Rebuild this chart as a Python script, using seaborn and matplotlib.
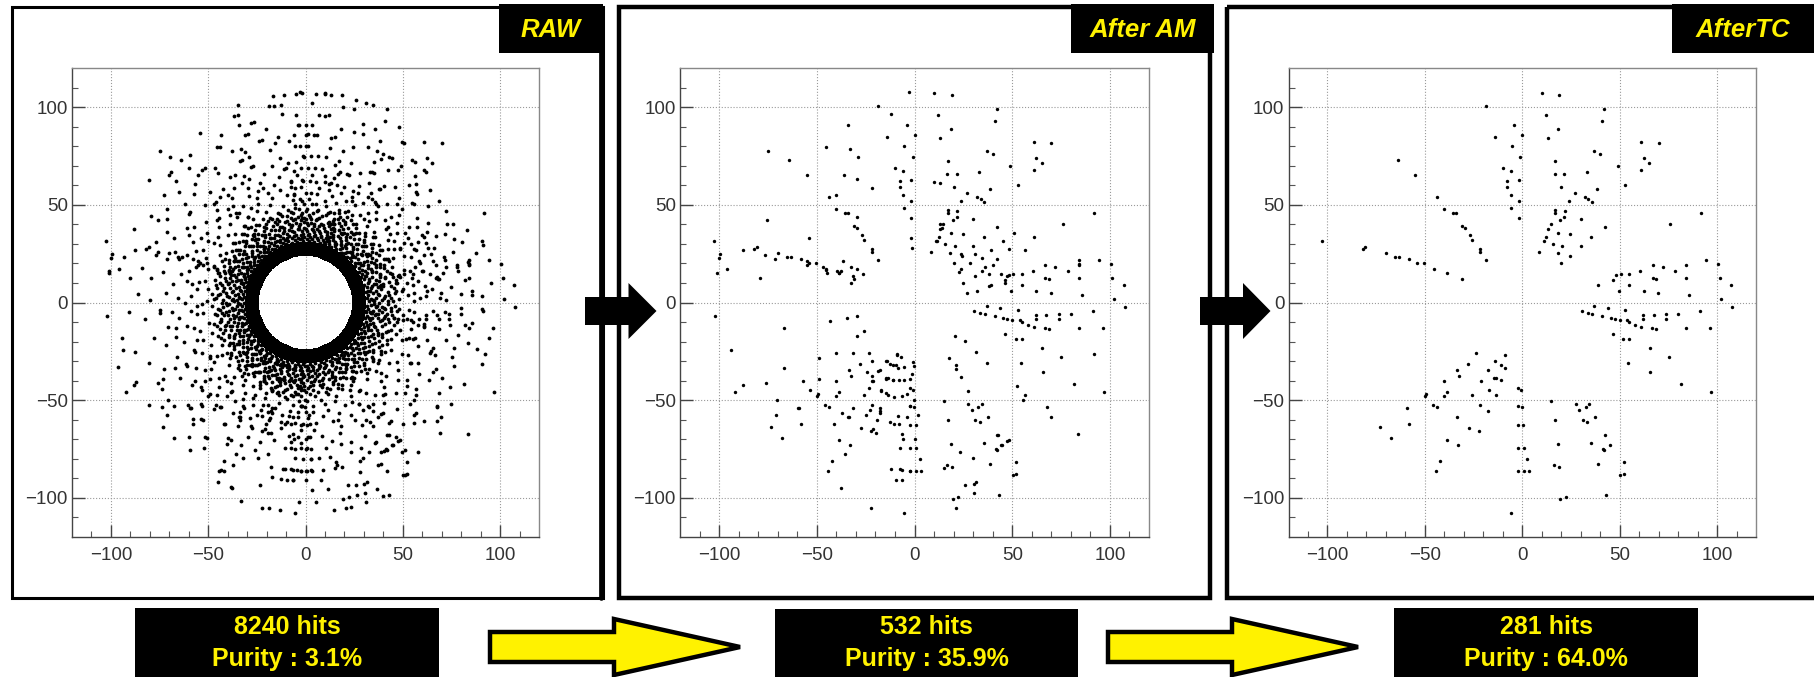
import numpy as np
import matplotlib
matplotlib.use('Agg')
import matplotlib.pyplot as plt
from matplotlib.patches import Rectangle, Polygon
import seaborn as sns

# hits surviving track combination
tc_x = [10,19,-18.7,42,12,41,-4,18.5,-14,0,13,61,70,-5.4,37,40,-1,-64,17,62.4,65,49,-10,61,-6,33,16.6,21.5,-55,-7.6,-1.6,53,-7.6,20,38.5,27,-6,-44,32,34,35.7,-1.8,24,-5.6,-40,17,21.7,-35.7,-34,17,91.7,21.5,-1.8,30,19.5,76,42.3,14.6,-31,-29.5,13,18.5,-27,24.7,35.5,12.4,-25.7,11.4,-102.7,15.8,20.5,30,-80.6,-82,-21.5,-70,8.6,18.3,-21.5,24.3,-65.4,-63.4,-58,-18.5,94.5,-54,-50.5,20,100.7,67,72,84,-45.3,60.4,78.4,-38.7,48.3,50.5,55,46.5,-31,67,68.6,84,101.3,39,55,107,49.5,62.4,69.6,85.7,102,37,44,107.7,30.7,33.5,36,53,91.3,41,45.5,47.5,50,54,62,67.4,74,80,62,74,55,58,61,66.6,68.6,84,96.3,46.5,51.8,55,65.4,-23.5,-9,75.2,-14,-27.7,-10.8,54.4,-8.6,-33.7,-17.5,65.6,-32.5,-13.6,-14.6,-40.3,-21.3,-10.8,81.4,-2.2,-0.6,-17,-38.5,97,-49.3,-26,-40.3,-13.6,-50,15,27.5,34.5,-46,-21.7,-2.2,-0.2,-44,32.5,-59,29.3,-17.7,37.5,-33.7,16.9,31,33.3,-58,-2.2,0.6,-73.2,-27.5,-22.3,42.7,-67.6,-38.5,18.5,35.5,45,-33,41.5,-2.2,1,42,2.6,-42,52,38.7,16.4,19,-44.3,-2.2,1,3.4,52,50.3,43,22.5,19.5,-5.6]
tc_y = [107,106,100.4,99,96,93,91,89,84.5,85.6,84,82,81.5,80,77.5,76,74.5,73,72.5,74,71.5,70,68.7,68,67.3,66.7,65.6,66,65,62,62.5,60,59,59,58,56,55,54,54,53,51.4,52,52,48.5,47.7,47.5,46.8,45.7,45.7,46,45.7,43.7,43,42.6,42,40.4,38.8,40,39,38,37.7,35.8,34.4,34.9,33.3,33.3,32,31.3,31.6,29.8,28.7,29,28.5,27.6,27.6,25.4,25.6,25.2,25.8,23.8,23.4,23.4,22.3,21.9,21.9,20,20.3,20,19.9,19,18.3,19,17.2,16.3,16.1,15.2,14.3,14.6,14.6,11.3,12.1,12.4,12.1,12.4,12.6,9,9,9,5.7,5.7,5,4,2,-1.8,-2.6,-2.2,-4.6,-5.3,-5.7,-4,-4.4,-7,-8,-8.4,-9,-8.8,-6.2,-6.4,-5.7,-6,-8.4,-8.4,-10,-11.5,-12.4,-13.2,-13.5,-13.2,-13,-16,-18.8,-18.8,-23.4,-25.8,-26.7,-28,-29.8,-31.6,-32,-31,-33.5,-34.7,-34.7,-35.8,-37.7,-38.4,-38.6,-40,-40.4,-39.7,-41.5,-43.5,-44.6,-45,-45.7,-46,-47,-47.2,-47.9,-47.2,-48,-50.3,-52,-52,-52.5,-52.5,-53,-53.4,-53.6,-53.4,-54,-55.2,-55.6,-58.5,-58.5,-60.3,-60.3,-61.4,-62.3,-62.5,-62.5,-63.6,-64,-65.8,-67.8,-69.5,-70.4,-72.2,-72,-72.8,-72.8,-74.8,-74.6,-74.6,-75.7,-80,-81,-81.7,-82.8,-83.4,-84,-86.3,-86.3,-86.3,-86.3,-87.9,-88.5,-98.7,-99.6,-100.7,-107.5]

# extra hits only seen in the middle panel
am_extra_x = [-2.6,-12,-34,-45.4,-33,-75,-29,-36.3,-29.2,10,13,-22,-40,-29.6,-75.7,-53.8,-1.8,-1.2,13,14,11,45.4,48.5,56.6,61,51,39.4,31.2,34.3,42.4,40.4,36.3,34.3,31.2,28.2,24,24,23,25,27,32,38.3,44.4,47.5,46.4,38.3,84,84,-87.6,-76.7,-71.2,-101,-100,-99.6,-96,-79.3,-55,-55,-47,-45.4,-44.8,-38.7,-39.5,-37.7,-36.7,-32.3,-29.6,-26.6,-32.3,-31.6,-102,-66.7,-43.4,-34.3,-29.4,-29.2,-25.6,-93.9,-40.4,-31.4,-48.9,-67,-57,-49,-76,-88,-92,-53.3,-70.6,-59.6,-71,-21.5,-14.8,-12.4,-9.3,-9,-6.9,-5.3,-0.8,-0.2,-1.2,-2.2,-5.3,-8,-11,-14.4,-18.9,-21.5,-24.5,-21.5,-23.5,-17,-14.4,-10.3,-6.3,-3.7,-0.2,-2.2,-8.3,-3.7,1.8,-17.4,-17.4,-23,-25,-19,-31.6,-37.3,-34,-41.4,-12.4,-10.3,-7.7,-6.3,-5.9,0,-21,-19.5,-35.7,-7.3,-11.8,-7.3,-6.3,-2.2,-9.3,-6.3,-37.7,-22.3,21,30.2,26,31.6,30.6,15,23.5,29.8,42,44.4,47.5,48.5,17.4,20.9,25.6,21,21,24,31.6,37.3,27.6,92,67.7,69.8,83.6,56.6,55.6,52.3]
am_extra_y = [107.5,96.5,91,79.6,78.5,77.6,74.7,65.4,63.4,61.6,61.2,58.8,55,43.9,42.4,32.8,32.8,28,40,38,31.7,31.7,27.3,26.8,33.5,35.7,26.8,24.6,23,22.4,19,18.4,16.2,13.5,20.2,24.6,16.9,15.7,10,4.7,5.8,14.6,14.6,13.5,10,8.6,22,19.7,26.8,24.2,22.4,15,22.8,24.6,17,12.4,19,21,18.4,16.8,15,15.3,16.2,16.2,21,18,16.9,14.6,10.2,13.5,-7,-12.9,-9.3,-8,-7,-17.3,-14.6,-24.4,-25.7,-25.7,-28.6,-33.7,-40,-39,-41,-42,-45.7,-45,-50,-54,-57.6,-30,-29.7,-31.3,-32,-26.4,-28,-33,-30.4,-32.6,-36.4,-39,-39.7,-39.7,-39.7,-39,-35,-37.5,-35.7,-40,-43.7,-45.2,-46.3,-48.6,-47.9,-46.8,-49.7,-53,-57.9,-58.5,-57.4,-54,-56.3,-54.8,-57.4,-60,-54,-56.8,-58.5,-62.3,-61.4,-62.3,-62.3,-67.4,-69.6,-69.6,-64.5,-67,-77.4,-74.5,-85,-85,-85.8,-86,-90.7,-90.7,-95,-105.3,-105,-92.9,-93.3,-91.8,-97.3,-84.7,-76.7,-79.6,-68,-73,-70.7,-70.3,-28.6,-16.9,-19.7,-32,-34,-38,-25.5,-30.8,-45.2,-26.4,-53.4,-58.5,-67.4,-47.5,-49.7,-42.6]

# raw hits sit on detector layers: layer radius, then the azimuth (deg) of each hit
layer_radii = [107, 102, 96, 91, 86, 83, 80, 75, 72, 69, 65.5, 62, 59, 56]
az_107 = [83,84.5,87,91,92.5,96,99,73,76,260,263,278,282.5,287,292,71,109,252]
az_102 = [76,79,88,97,99,110,111,122,133,142,171,199,244,248,268,273,285,291,300,62]
az_96 = [58,59,68,72,84,86,93,106,107,117,128,136,137,157,166,191,205,213,232,243,244,256,272,277,283,296,307,316,341,349,6,18,19]
az_91 = [47,52,53,65,71,74,88,90,92,103,109,110,119,131,137,143,151,172,183,196,216,229,235,246,259,262,266,270,275,288,294,303,304,318,325,345,358,2,16,24]
az_86 = [37,42,49,59,60,68,80,86,87,89,94,105,106,116,127,128,139,146,168,177,201,211,218,233,234,248,258,263,267,270,272,276,289,297,298,315,322,330,346,353,4,14,21,33]
az_83 = [8,23,29,47,55,62,73,96,101,112,124,133,149,158,186,208,226,241,253,281,293,304,312,326,337,352]
az_80 = [19,26,38,44,45,58,64,76,81,89,90,92,103,114,115,124,136,141,153,161,179,193,205,221,228,229,240,251,256,266,269,272,275,279,291,297,309,314,315,331,343,348,358,3,13,14]
az_75 = [6,17,18,27,33,42,43,52,62,63,72,82,85,88,91,100,111,112,121,131,142,143,154,168,183,184,197,211,224,225,236,247,252,262,266,270,272,278,288,294,305,306,316,328,333,345,351]
az_72 = [1,12,23,30,37,48,56,67,78,94,97,104,116,126,136,148,159,176,190,203,216,229,241,257,264,268,281,299,311,322,338,356]
az_69 = [2,10,11,18,21,24,26,30,34,44,47,57,62,71,75,83,86,89,92,99,108,118,122,132,133,146,150,161,172,184,195,207,208,219,231,241,246,255,263,267,271,272,277,285,295,304,305,318,328,338,339,353]
az_65 = [6,13,22,28,36,43,50,59,65,77,81,87,94,102,111,117,125,134,141,152,158,167,178,187,198,211,218,226,239,244,252,259,268,274,286,293,302,308,315,323,332,343,356]
az_62 = [3,8,15,19,20,26,29,32,41,45,53,54,67,75,79,85,88,91,97,105,113,118,127,136,137,145,155,165,170,180,191,203,204,214,224,234,239,249,253,261,265,269,272,275,283,292,301,310,311,320,330,339,349,350]
az_59 = [2,11,18,23,31,37,46,52,60,66,72,78,83,92,95,103,109,115,123,131,139,148,153,162,171,177,184,193,199,206,215,221,230,237,243,251,258,264,271,279,287,298,307,313,324,333,342,352]
az_56 = [1,5,13,17,25,30,39,42,50,55,63,68,76,84,87,90,96,100,108,116,120,129,134,143,147,156,160,169,173,182,186,195,200,209,213,222,227,236,241,250,254,262,266,270,274,282,291,295,304,314,318,327,332,341,346,355]
layer_az = [az_107, az_102, az_96, az_91, az_86, az_83, az_80, az_75, az_72, az_69, az_65, az_62, az_59, az_56]

# speckled band inside that, azimuths per radius so the layers no longer show
band_radii = [53, 50.5, 48, 46, 44, 42.5, 41, 39.5, 38, 36.5, 35, 33.5, 47, 45, 43, 40.5, 37.5, 34.5, 32.5, 31.5]
band_53 = [4,11,18,31,37,52,58,73,79,88,93,97,110,118,124,139,146,161,168,181,186,204,211,226,233,247,255,263,268,274,281,296,302,317,324,339,351]
band_50 = [8,15,27,33,46,51,62,66,78,84,86,91,96,103,114,122,129,136,151,158,172,179,192,198,212,219,232,238,246,259,266,271,279,288,297,309,316,331,344,353]
band_48 = [2,12,22,26,38,44,57,61,72,75,82,89,94,101,107,117,126,133,141,148,154,166,175,182,193,201,207,216,224,229,241,249,253,261,267,276,284,293,299,311,322,328,337,348,356]
band_46 = [6,9,19,29,41,48,56,64,69,77,85,92,98,105,112,115,121,131,138,145,156,163,171,177,188,197,205,214,221,228,235,244,250,257,263,270,278,286,294,303,312,319,327,335,342,350,358]
band_44 = [3,14,24,35,39,47,54,60,67,71,81,87,95,100,108,111,119,127,134,142,147,153,160,168,174,185,191,199,208,213,222,227,234,241,247,253,260,265,272,281,289,298,306,313,321,329,340,347,354]
band_42 = [1,7,17,25,31,43,50,55,63,70,74,83,90,93,99,104,113,120,125,130,137,144,150,157,165,170,178,183,189,196,203,209,217,225,230,237,243,251,256,264,269,275,282,291,295,304,310,317,325,332,338,345,352,359]
band_41 = [5,13,20,28,36,45,53,59,65,73,79,86,91,97,102,109,116,123,128,135,140,149,155,162,167,173,180,187,194,200,206,211,218,223,231,239,245,252,258,262,268,274,280,287,292,300,307,315,323,330,336,343,349,355]
band_39 = [2,10,16,23,32,37,42,49,58,62,68,76,80,84,88,95,101,106,110,118,122,129,133,141,146,152,159,164,169,176,181,186,192,198,204,210,215,220,226,233,238,242,248,254,259,265,271,277,283,290,296,302,309,314,320,326,333,339,346,353,357]
band_38 = [0,6,12,18,27,34,40,46,52,57,64,70,75,81,85,91,96,103,107,114,119,124,131,136,143,148,154,160,166,172,178,184,190,195,202,207,213,219,224,229,235,240,246,251,257,262,268,273,279,285,291,298,304,311,317,323,329,335,341,348,354]
band_36 = [4,9,15,21,29,35,43,48,55,60,67,72,78,83,89,93,99,105,111,116,122,127,133,139,145,150,156,162,168,174,179,185,191,197,203,208,214,220,226,231,237,243,249,255,260,266,272,278,284,289,295,301,307,313,319,325,331,337,343,350,356]
band_35 = [1,8,14,20,26,33,39,47,53,59,66,71,77,82,87,92,98,104,109,115,120,126,132,138,144,149,155,161,167,173,178,183,189,194,200,206,212,217,223,228,234,239,245,250,256,261,267,274,280,286,293,299,305,312,318,324,330,336,342,347,353,359]
band_33 = [3,10,17,24,30,37,44,50,56,63,69,74,80,86,91,97,102,108,113,119,125,130,136,142,147,153,158,164,170,176,181,187,193,199,205,210,216,222,227,233,238,244,249,255,261,266,272,277,283,288,294,300,306,310,316,322,328,334,340,346,352,358]
band_47 = [7,16,28,35,49,59,68,76,83,90,99,106,113,123,132,140,152,161,169,178,187,195,203,215,223,231,240,248,256,264,273,283,291,301,314,326,333,346,355]
band_45 = [1,11,21,33,42,52,63,71,79,88,93,102,109,117,125,136,143,151,159,167,175,184,193,200,209,218,226,233,242,251,258,267,275,284,292,301,309,320,331,341,352]
band_43 = [5,18,27,37,46,57,65,74,82,86,91,97,103,110,118,128,135,141,148,155,163,172,180,187,196,204,211,219,228,236,244,252,259,266,273,280,289,297,305,314,324,336,349]
band_40 = [3,12,19,30,38,48,56,61,69,77,84,89,94,100,107,113,121,127,134,142,148,153,160,166,175,182,189,197,205,212,221,227,232,241,247,254,261,267,276,282,290,298,305,311,319,328,337,347,356]
band_37 = [7,15,25,31,41,49,54,62,68,73,79,84,90,95,101,108,112,118,125,129,137,142,151,157,163,171,177,186,192,199,205,211,217,225,232,236,244,250,256,263,269,275,281,288,294,303,310,316,322,333,341,351]
band_34 = [2,12,19,28,34,42,49,58,64,72,77,83,88,94,100,106,112,117,123,128,135,140,146,151,157,163,169,175,180,186,192,198,204,209,215,221,226,232,237,243,248,254,259,265,271,276,282,287,293,298,304,309,315,321,327,333,339,345,351]
band_32 = [1,7,14,22,27,33,38,45,51,57,62,68,73,79,84,89,95,100,106,111,117,122,128,133,139,144,150,155,161,166,172,177,183,188,194,199,205,210,216,221,227,232,238,243,249,254,260,265,271,276,282,287,293,298,304,309,315,320,326,331,337,342,348,354]
band_31 = [4,10,17,24,30,36,42,48,54,60,65,71,76,82,87,92,98,103,109,114,120,125,131,136,142,147,153,158,164,169,175,180,186,191,197,202,208,213,219,224,230,235,241,246,252,257,263,268,274,279,285,290,296,301,307,312,318,323,329,334,340,345,351,357]
band_az = [band_53, band_50, band_48, band_46, band_44, band_42, band_41, band_39, band_38, band_36, band_35, band_33, band_47, band_45, band_43, band_40, band_37, band_34, band_32, band_31]

# nearest the beam pipe the raw panel is solid, so occupancy per cell
core_r_edges = [24, 28, 31]
core_fill = [
    [100,100,100,100,100,100,100,100,100,100,100,100,100,100,100,100,100,100,100,100,100,100,100,100],
    [100,100,100,100,100,100,100,100,100,100,100,100,100,100,100,100,100,100,100,100,100,100,100,100],
]

ticks = [-100, -50, 0, 50, 100]
minor_ticks = [-110,-90,-80,-70,-60,-40,-30,-20,-10,10,20,30,40,60,70,80,90,110]

panel_names = ['RAW', 'After AM', 'AfterTC']
hit_labels = ['8240 hits', '532 hits', '281 hits']
purity_labels = ['Purity : 3.1%', 'Purity : 35.9%', 'Purity : 64.0%']

yellow = '#fff200'
W, H = 1814, 677

sns.set_style('white')
plt.rcParams['font.family'] = ['Liberation Sans', 'DejaVu Sans']

fig = plt.figure(figsize=(W / 100, H / 100), dpi=100)
bg = fig.add_axes([0, 0, 1, 1])
bg.set_xlim(0, W)
bg.set_ylim(H, 0)
bg.axis('off')

# frames, title boxes and the box + arrow decorations, in pixels
frames = [(12, 7, 591, 591, 2.2), (619, 7, 591, 591, 3.2), (1227, 7, 620, 591, 3.2)]
for x, y, w, h, lw in frames:
    bg.add_patch(Rectangle((x, y), w, h, fill=False, ec='black', lw=lw))
bg.plot([601, 601], [7, 598], color='black', lw=3.4)

title_boxes = [(499, 4, 104, 49), (1071, 4, 143, 49), (1672, 4, 142, 49)]
for (x, y, w, h), name in zip(title_boxes, panel_names):
    bg.add_patch(Rectangle((x, y), w, h, fc='black', ec='none'))
    bg.text(x + w / 2, y + 26, name, color=yellow, fontsize=18.5, fontweight='bold',
            fontstyle='italic', ha='center', va='center')

info_boxes = [(135, 608, 304, 69), (775, 609, 303, 68), (1394, 608, 304, 69)]
for (x, y, w, h), hits, purity in zip(info_boxes, hit_labels, purity_labels):
    bg.add_patch(Rectangle((x, y), w, h, fc='black', ec='none'))
    bg.text(x + w / 2, 627, hits, color=yellow, fontsize=18, fontweight='bold', ha='center', va='center')
    bg.text(x + w / 2, 659, purity, color=yellow, fontsize=18, fontweight='bold', ha='center', va='center')

for x0, xn, tip in [(585, 628.5, 656.5), (1200, 1243, 1270.5)]:
    bg.add_patch(Polygon([(x0, 297), (xn, 297), (xn, 283), (tip, 311), (xn, 339), (xn, 325), (x0, 325)],
                         fc='black', ec='none', zorder=3))
for x0, xn, tip in [(490, 614, 740), (1108, 1232, 1358)]:
    bg.add_patch(Polygon([(x0, 632), (xn, 632), (xn, 619), (tip, 647), (xn, 675), (xn, 662), (x0, 662)],
                         fc=yellow, ec='black', lw=3.2, joinstyle='miter', zorder=3))

am_x = tc_x + am_extra_x
am_y = tc_y + am_extra_y
raw_x = list(am_x)
raw_y = list(am_y)
for r, az in zip(layer_radii + band_radii, layer_az + band_az):
    raw_x += list(r * np.cos(np.radians(az)))
    raw_y += list(r * np.sin(np.radians(az)))

panels = [(72, 539, raw_x, raw_y, 7.5), (680, 1149, am_x, am_y, 6), (1288.5, 1756, tc_x, tc_y, 6)]
for i, (left, right, xs, ys, size) in enumerate(panels):
    ax = fig.add_axes([left / W, 1 - 537 / H, (right - left) / W, (537 - 68) / H])
    ax.set_facecolor('white')
    if i == 0:
        # 5 mesh columns per 15 deg cell keeps the hole round
        az_edges = np.radians(np.arange(0, 360.1, 3))
        rr, aa = np.meshgrid(core_r_edges, az_edges, indexing='ij')
        fill = np.repeat(np.array(core_fill), 5, axis=1)
        ax.pcolormesh(rr * np.cos(aa), rr * np.sin(aa), fill, cmap='Greys',
                      vmin=0, vmax=100, shading='flat', linewidth=0, rasterized=True)
    sns.scatterplot(x=xs, y=ys, ax=ax, color='black', s=size, linewidth=0, zorder=3)
    ax.set_xlim(-120, 120)
    ax.set_ylim(-120, 120)
    ax.set_xticks(ticks)
    ax.set_yticks(ticks)
    ax.set_xticks(minor_ticks, minor=True)
    ax.set_yticks(minor_ticks, minor=True)
    ax.grid(True, which='major', color='#9a9a9a', lw=0.8, ls=':')
    ax.tick_params(axis='both', which='major', direction='in', length=9, width=1, color='#444444',
                   labelsize=13.5, labelcolor='#333333', bottom=True, left=True)
    ax.tick_params(axis='x', which='major', pad=7)
    ax.tick_params(axis='y', which='major', pad=3)
    ax.tick_params(axis='both', which='minor', direction='in', length=4.5, width=0.8, color='#555555',
                   bottom=True, left=True)
    for side, spine in ax.spines.items():
        spine.set_color('#444444' if side in ('left', 'bottom') else '#888888')
        spine.set_linewidth(1.0)

fig.savefig('out.png', dpi=100)
